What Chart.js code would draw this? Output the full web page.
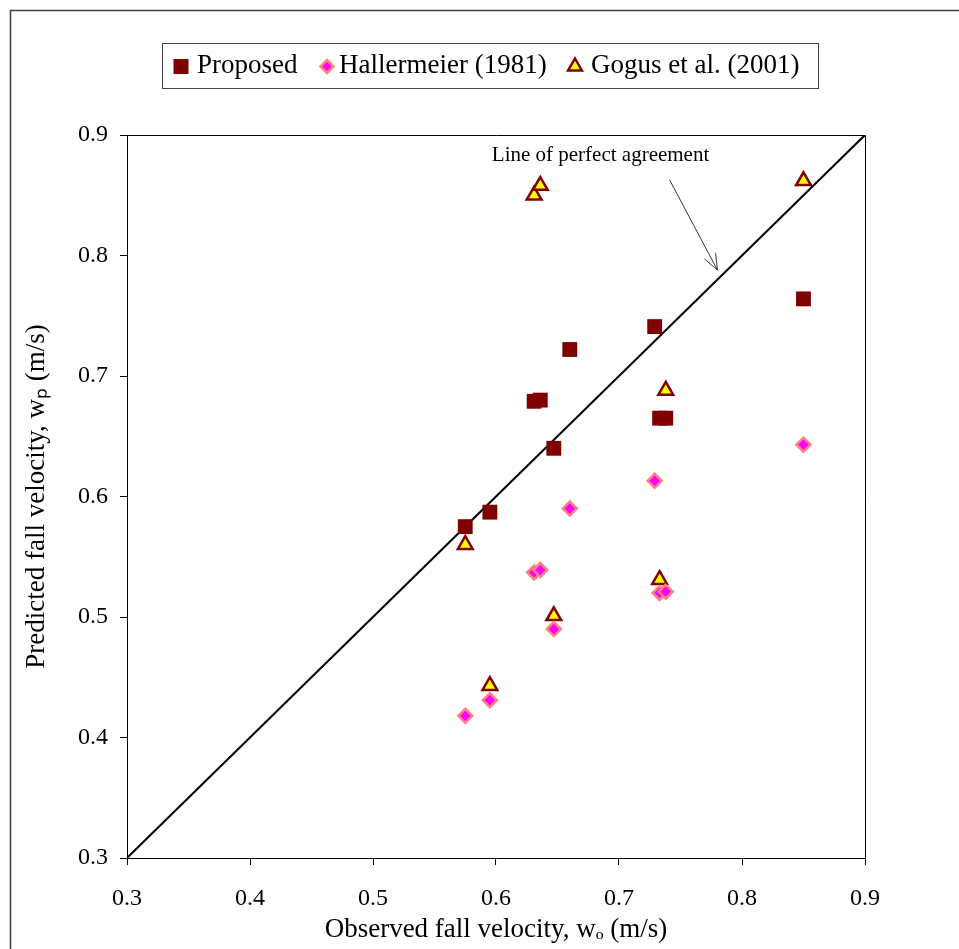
<!DOCTYPE html>
<html>
<head>
<meta charset="utf-8">
<script src="https://cdn.jsdelivr.net/npm/chart.js@4/dist/chart.umd.min.js"></script>
<style>
  html, body { margin: 0; padding: 0; background: #ffffff; }
  #wrap { width: 959px; height: 949px; position: relative; }
</style>
</head>
<body>
<div id="wrap"><canvas id="c" width="959" height="949"></canvas></div>
<script>
// ---- data ----
const observed    = [0.575, 0.595, 0.631, 0.636, 0.647, 0.660, 0.729, 0.733, 0.738, 0.850];
const proposed    = [0.575, 0.587, 0.679, 0.680, 0.640, 0.722, 0.741, 0.665, 0.665, 0.764];
const hallermeier = [0.418, 0.431, 0.537, 0.539, 0.490, 0.590, 0.613, 0.520, 0.521, 0.643];
const gogus       = [0.560, 0.443, 0.850, 0.858, 0.501, null,  null,  0.531, 0.688, 0.862];
const perfectLine = [0.3, 0.9];
const seriesNames = ['Proposed', 'Hallermeier (1981)', 'Gogus et al. (2001)'];
const axisTicks   = [0.3, 0.4, 0.5, 0.6, 0.7, 0.8, 0.9];
const annotationText = 'Line of perfect agreement';
const arrowFrom = [0.741, 0.863];
const arrowTo   = [0.780, 0.788];
const annotationAt = [0.685, 0.883];

const pts = (xs, ys) => xs.map((x, i) => ({x: x, y: ys[i]})).filter(p => p.y !== null);

const FONT = "'Liberation Serif', 'Times New Roman', serif";

const framePlugin = {
  id: 'frame',
  beforeDraw(chart) {
    const ctx = chart.ctx;
    ctx.save();
    ctx.fillStyle = '#fff';
    ctx.fillRect(0, 0, chart.width, chart.height);
    ctx.strokeStyle = '#3a3a3a';
    ctx.lineWidth = 1.5;
    ctx.beginPath();
    ctx.moveTo(10.5, chart.height);
    ctx.lineTo(10.5, 10.5);
    ctx.lineTo(chart.width, 10.5);
    ctx.stroke();
    ctx.restore();
  },
  beforeDatasetsDraw(chart) {
    const a = chart.chartArea, ctx = chart.ctx;
    ctx.save();
    ctx.strokeStyle = '#000';
    ctx.lineWidth = 1;
    ctx.beginPath();
    ctx.moveTo(a.left, a.top + 0.5); ctx.lineTo(a.right + 0.5, a.top + 0.5);
    ctx.lineTo(a.right + 0.5, a.bottom);
    ctx.stroke();
    ctx.restore();
  },
  afterDraw(chart) {
    const ctx = chart.ctx;
    const xs = chart.scales.x, ys = chart.scales.y;
    ctx.save();
    // annotation text
    ctx.fillStyle = '#000';
    ctx.font = '21px ' + FONT;
    ctx.textAlign = 'center';
    ctx.textBaseline = 'middle';
    ctx.fillText(annotationText, xs.getPixelForValue(annotationAt[0]), ys.getPixelForValue(annotationAt[1]));
    // arrow
    const x1 = xs.getPixelForValue(arrowFrom[0]), y1 = ys.getPixelForValue(arrowFrom[1]);
    const x2 = xs.getPixelForValue(arrowTo[0]), y2 = ys.getPixelForValue(arrowTo[1]);
    ctx.strokeStyle = '#222';
    ctx.lineWidth = 0.9;
    ctx.beginPath(); ctx.moveTo(x1, y1); ctx.lineTo(x2, y2); ctx.stroke();
    const ang = Math.atan2(y2 - y1, x2 - x1), L = 17, spread = 0.38;
    ctx.beginPath();
    ctx.moveTo(x2 - L * Math.cos(ang - spread), y2 - L * Math.sin(ang - spread));
    ctx.lineTo(x2, y2);
    ctx.lineTo(x2 - L * Math.cos(ang + spread), y2 - L * Math.sin(ang + spread));
    ctx.stroke();

    // legend box
    const bx = 162, by = 43, bw = 656, bh = 45;
    ctx.strokeStyle = '#444';
    ctx.lineWidth = 1;
    ctx.strokeRect(bx + 0.5, by + 0.5, bw, bh);
    const cy = by + bh / 2 + 1;
    const markerX = [181, 327, 575];
    const textX = [197, 339, 591];
    ctx.font = '27px ' + FONT;
    ctx.textAlign = 'left';
    ctx.textBaseline = 'middle';
    chart.data.datasets.slice(0, 3).forEach((ds, i) => {
      const mx = markerX[i];
      ctx.fillStyle = ds.pointBackgroundColor;
      ctx.strokeStyle = ds.pointBorderColor;
      ctx.lineWidth = ds.pointBorderWidth;
      ctx.beginPath();
      if (ds.pointStyle === 'rect') {
        ctx.rect(mx - 7.5, cy - 7.5, 15, 15);
        ctx.fill();
      } else if (ds.pointStyle === 'rectRot') {
        const r = 6.5;
        ctx.moveTo(mx, cy - r); ctx.lineTo(mx + r, cy); ctx.lineTo(mx, cy + r); ctx.lineTo(mx - r, cy); ctx.closePath();
        ctx.fill(); ctx.stroke();
      } else {
        const r = 8;
        ctx.moveTo(mx, cy - r); ctx.lineTo(mx + r * 0.866, cy + r * 0.5); ctx.lineTo(mx - r * 0.866, cy + r * 0.5); ctx.closePath();
        ctx.fill(); ctx.stroke();
      }
      ctx.fillStyle = '#000';
      ctx.fillText(ds.label, textX[i], cy - 1);
    });
    ctx.restore();
  }
};

new Chart(document.getElementById('c'), {
  type: 'scatter',
  data: {
    datasets: [
      {
        label: seriesNames[0],
        data: pts(observed, proposed),
        pointStyle: 'rect',
        pointRadius: 10.5,
        pointHoverRadius: 10.5,
        pointBackgroundColor: '#800000',
        pointBorderColor: '#800000',
        pointBorderWidth: 0
      },
      {
        label: seriesNames[1],
        data: pts(observed, hallermeier),
        pointStyle: 'rectRot',
        pointRadius: 7,
        pointHoverRadius: 7,
        pointBackgroundColor: '#ff00ff',
        pointBorderColor: '#ff8080',
        pointBorderWidth: 2.5
      },
      {
        label: seriesNames[2],
        data: pts(observed, gogus),
        pointStyle: 'triangle',
        pointRadius: 8.5,
        pointHoverRadius: 8.5,
        pointBackgroundColor: '#ffff00',
        pointBorderColor: '#800000',
        pointBorderWidth: 2.5
      },
      {
        label: 'Line of perfect agreement',
        data: pts(perfectLine, perfectLine),
        showLine: true,
        pointRadius: 0,
        borderColor: '#000',
        borderWidth: 2,
        fill: false
      }
    ]
  },
  options: {
    responsive: false,
    animation: false,
    events: [],
    layout: { padding: { top: 135, right: 94, left: 0, bottom: 0 } },
    plugins: { legend: { display: false }, tooltip: { enabled: false }, title: { display: false } },
    scales: {
      x: {
        type: 'linear',
        min: 0.3, max: 0.9,
        afterBuildTicks(s) { s.ticks = axisTicks.map(v => ({value: v})); },
        afterFit(s) { s.height = 91; },
        grid: { display: true, drawOnChartArea: false, drawTicks: true, tickLength: 7, color: '#000' },
        border: { display: true, color: '#000', width: 1 },
        ticks: { color: '#000', font: { family: FONT, size: 24 }, padding: 19, callback: v => v.toFixed(1), maxRotation: 0 },
        title: { display: true, text: 'Observed fall velocity, w\u2092 (m/s)', color: '#000', font: { family: FONT, size: 27 }, padding: { top: 0, bottom: 3 } }
      },
      y: {
        type: 'linear',
        min: 0.3, max: 0.9,
        afterBuildTicks(s) { s.ticks = axisTicks.map(v => ({value: v})); },
        afterFit(s) { s.width = 127; },
        grid: { display: true, drawOnChartArea: false, drawTicks: true, tickLength: 7, color: '#000' },
        border: { display: true, color: '#000', width: 1 },
        ticks: { color: '#000', font: { family: FONT, size: 24 }, padding: 12, callback: v => v.toFixed(1) },
        title: { display: true, text: 'Predicted fall velocity, w\u209A (m/s)', color: '#000', font: { family: FONT, size: 27 }, padding: { top: 21, bottom: 0 } }
      }
    }
  },
  plugins: [framePlugin]
});
</script>
</body>
</html>
